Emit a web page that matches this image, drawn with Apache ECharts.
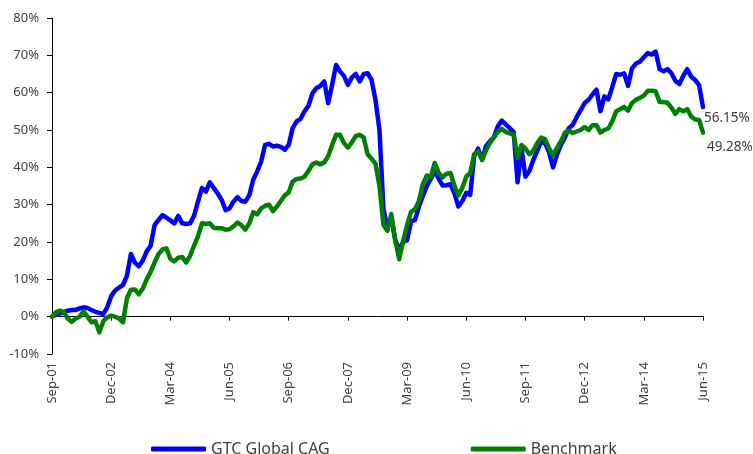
<!DOCTYPE html>
<html lang="en">
<head>
<meta charset="UTF-8">
<title>GTC Global CAG vs Benchmark</title>
<script src="https://cdn.jsdelivr.net/npm/echarts@6/dist/echarts.min.js"></script>
<style>
html, body {margin: 0; padding: 0; background: #ffffff;}
#main {width: 753px; height: 454px;}
</style>
</head>
<body>
<div id="main"></div>
<script type="text/javascript">
// monthly cumulative return (%), Sep-01 .. Jun-15
var monthNames = ['Jan', 'Feb', 'Mar', 'Apr', 'May', 'Jun', 'Jul', 'Aug', 'Sep', 'Oct', 'Nov', 'Dec'];
var months = [];
for (var k = 0; k < 166; k++) {
    var m = (8 + k) % 12;
    var y = 1 + Math.floor((8 + k) / 12);
    months.push(monthNames[m] + '-' + (y < 10 ? '0' + y : '' + y));
}

var gtcValues = [
    0, 0.5, 0.8, 1.2, 1.6, 1.8, 1.8, 2.2, 2.5, 2.3,
    1.8, 1.3, 1.0, 0.7, 2.5, 5.5, 7.0, 7.8, 8.5, 11,
    16.8, 14.5, 13.5, 15, 17.5, 19, 24.5, 25.9, 27.2, 26.5,
    25.8, 25, 27, 25, 24.8, 25, 27, 30.8, 34.5, 33.5,
    36, 34.5, 33, 31.3, 28.5, 29, 30.8, 32, 31, 30.8,
    32.5, 36.7, 38.9, 41.5, 46, 46.3, 45.6, 45.8, 45.5, 44.7,
    46, 50.5, 52.3, 53, 55, 56.5, 59.8, 61.2, 61.8, 63,
    57.2, 62.1, 67.4, 65.7, 64.5, 62.1, 64.1, 65, 63, 65,
    65.2, 63.4, 58, 50, 29, 23.7, 26.5, 20.5, 17.9, 20,
    20.5, 25.5, 25.9, 29.5, 32.3, 35, 36.9, 39, 37, 35.1,
    35.2, 35.5, 33, 29.5, 31, 33.2, 32.6, 43, 45, 42,
    45.7, 47, 48, 51, 52.5, 51.5, 50.5, 49.5, 36, 45,
    37.5, 39, 42, 44.5, 46.9, 46.4, 44, 40, 43.5, 46,
    48, 50.5, 51.4, 53.5, 55.3, 57.2, 58.1, 59.5, 60.8, 55,
    59, 58.2, 61.5, 65, 64.8, 65.2, 61.8, 66.5, 67.8, 68.3,
    69.5, 70.6, 70.2, 71, 66.3, 65.7, 66.3, 65.2, 63.2, 62.3,
    64.5, 66.3, 64.3, 63.4, 62, 56.15
];

var benchValues = [
    0, 1.2, 1.6, 1.2, -0.5, -1.4, -0.5, 0, 1.4, 0,
    -1.5, -1.2, -4.2, -1.2, -0.2, 0.3, 0, -0.5, -1.5, 5,
    7.2, 7.3, 6, 7.5, 10, 12, 14.5, 16.8, 18, 18.3,
    15.5, 14.8, 15.8, 16, 14.5, 16.3, 19, 21.5, 25, 24.8,
    25, 23.8, 23.7, 23.7, 23.3, 23.4, 24.2, 25.2, 24.5, 23.3,
    25, 28, 27.4, 29, 29.7, 30, 28.3, 29.5, 31, 32.5,
    33.3, 36.2, 36.9, 37, 37.5, 39, 40.8, 41.3, 40.8, 41.3,
    43, 46, 48.7, 48.7, 46.5, 45.3, 46.7, 48.4, 48.7, 48,
    43.5, 42.3, 41, 35, 24.6, 23, 27.5, 20.5, 15.4, 20.3,
    24.5, 28.1, 28.8, 31, 35.5, 37.8, 37.3, 41.2, 38.6, 37.3,
    38.3, 38.5, 35, 32.5, 34.5, 37.5, 38.5, 43.5, 44.3, 42,
    44.5, 46.5, 48, 49.5, 50.3, 49.5, 49.1, 48.8, 42.5, 46,
    45, 43.5, 44.5, 46.5, 48, 47.5, 45.1, 43.2, 45.2, 47,
    49.3, 49.8, 49.2, 49.6, 50, 50.8, 50, 51.3, 51.3, 49.3,
    50, 50.4, 52.3, 55, 55.6, 56.2, 55.2, 57.2, 58.1, 58.6,
    59.2, 60.5, 60.5, 60.4, 57.5, 57.5, 57.3, 56, 54.3, 55.6,
    55, 55.6, 53.6, 52.8, 52.7, 49.28
];

var seriesNames = ['GTC Global CAG', 'Benchmark'];
var textColor = '#404040';
var fontName = '"Noto Sans", "DejaVu Sans", sans-serif';

var myChart = echarts.init(document.getElementById('main'));

myChart.setOption({
    backgroundColor: '#ffffff',
    animation: false,
    textStyle: {fontFamily: fontName},
    grid: {left: 52, right: 50, top: 18, bottom: 100, containLabel: false},
    legend: {
        data: seriesNames,
        left: 146,
        top: 436,
        itemWidth: 55,
        itemHeight: 5,
        itemGap: 141,
        icon: 'roundRect',
        textStyle: {color: textColor, fontSize: 16, fontFamily: fontName}
    },
    xAxis: [
        {
            type: 'category',
            data: months,
            boundaryGap: false,
            position: 'bottom',
            axisLine: {show: false, onZero: false},
            axisTick: {show: false},
            axisLabel: {
                interval: 14,
                rotate: 90,
                margin: 8,
                color: textColor,
                fontSize: 13,
                fontFamily: fontName
            },
            splitLine: {show: false}
        },
        {
            type: 'category',
            data: months,
            boundaryGap: false,
            position: 'top',
            axisLine: {show: true, onZero: true, lineStyle: {color: '#000', width: 1}},
            axisTick: {show: true, inside: true, interval: 14, length: 4, lineStyle: {color: '#000'}},
            axisLabel: {show: false},
            splitLine: {show: false}
        }
    ],
    yAxis: {
        type: 'value',
        min: -10,
        max: 80,
        interval: 10,
        axisLine: {show: true, lineStyle: {color: '#000', width: 1}},
        axisTick: {show: true, length: 5, lineStyle: {color: '#000'}},
        axisLabel: {
            formatter: '{value}%',
            margin: 13,
            color: textColor,
            fontSize: 13,
            fontFamily: fontName
        },
        splitLine: {show: false}
    },
    series: [
        {
            name: seriesNames[0],
            type: 'line',
            data: gtcValues,
            showSymbol: false,
            symbol: 'none',
            lineStyle: {color: '#0000ff', width: 4.5, join: 'round', cap: 'round'},
            itemStyle: {color: '#0000ff'},
            endLabel: {
                show: true,
                formatter: function (p) { return p.value.toFixed(2) + '%'; },
                color: textColor,
                fontSize: 13.5,
                fontFamily: fontName,
                offset: [-7, 11]
            }
        },
        {
            name: seriesNames[1],
            type: 'line',
            data: benchValues,
            showSymbol: false,
            symbol: 'none',
            lineStyle: {color: '#008000', width: 4.5, join: 'round', cap: 'round'},
            itemStyle: {color: '#008000'},
            endLabel: {
                show: true,
                formatter: function (p) { return p.value.toFixed(2) + '%'; },
                color: textColor,
                fontSize: 13.5,
                fontFamily: fontName,
                offset: [-4, 14]
            }
        }
    ]
});
</script>
</body>
</html>
